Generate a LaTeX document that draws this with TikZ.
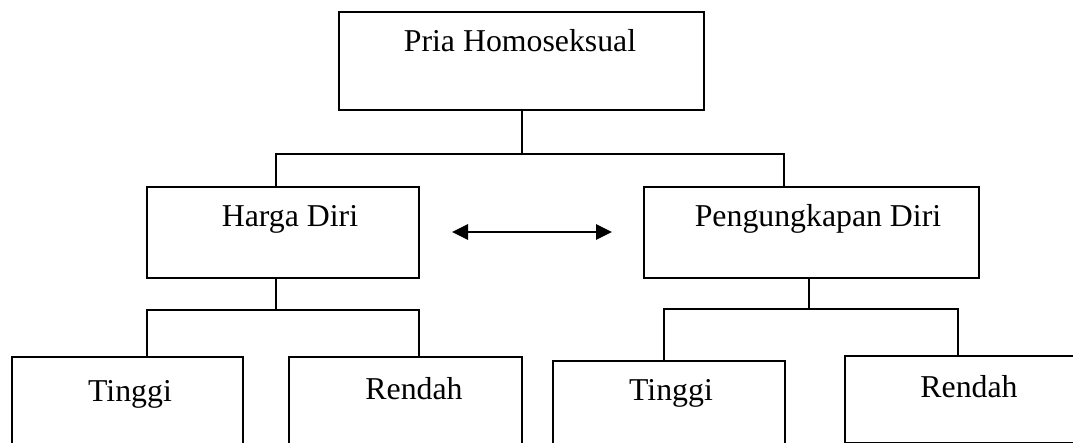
\documentclass[tikz,border=0pt]{standalone}
\usepackage{fontspec}
\setmainfont{Liberation Serif}
\usetikzlibrary{arrows.meta}
\tikzset{
  box/.style={draw=black, line width=2.1pt, rectangle, inner sep=0pt, anchor=north west},
  lbl/.style={anchor=base, inner sep=0pt, font=\fontsize{31.8}{38}\selectfont},
  conn/.style={draw=black, line width=2pt},
}
\begin{document}
\begin{tikzpicture}[x=1pt, y=-1pt]
\clip (0,0) rectangle (1073,443);
\fill[white] (0,0) rectangle (1073,443);
% boxes
\node[box, minimum width=365pt, minimum height=98pt] (top) at (338,11) {};
\node[box, minimum width=272pt, minimum height=91pt] (harga) at (146,186) {};
\node[box, minimum width=335pt, minimum height=91pt] (peng) at (643,186) {};
\node[box, minimum width=231pt, minimum height=120pt] (t1) at (11,356) {};
\node[box, minimum width=233pt, minimum height=120pt] (r1) at (288,356) {};
\node[box, minimum width=232pt, minimum height=120pt] (t2) at (552,360) {};
\node[box, minimum width=233pt, minimum height=87pt] (r2) at (844,355) {};
% labels
\node[lbl] (ltop) at (520,52) {Pria Homoseksual};
\node[lbl] (lharga) at (290,227) {Harga Diri};
\node[lbl] (lpeng) at (818,227) {Pengungkapan Diri};
\node[lbl] (lt1) at (130,401) {Tinggi};
\node[lbl] (lr1) at (414,399) {Rendah};
\node[lbl] (lt2) at (671,400) {Tinggi};
\node[lbl] (lr2) at (969,397) {Rendah};
% connectors
\draw[conn] ([xshift=0.5pt]top.south) -- ++(0,43) coordinate (j1);
\draw[conn] ([xshift=-7pt]harga.north) |- (j1) -| ([xshift=-27.5pt]peng.north);
\draw[conn] ([xshift=-7pt]harga.south) -- ++(0,32) coordinate (j2);
\draw[conn] ([xshift=19.5pt]t1.north) |- ([yshift=1pt]j2) -| ([xshift=13.5pt]r1.north);
\draw[conn] ([xshift=-2.5pt]peng.south) -- ++(0,31) coordinate (j3);
\draw[conn] ([xshift=-5pt]t2.north) |- ([yshift=1pt]j3) -| ([xshift=-3.5pt]r2.north);
% double arrow
\coordinate (aL) at (452,232);
\coordinate (aR) at (612,232);
\draw[conn, line width=2.8pt, {Triangle[length=16pt,width=15pt]}-{Triangle[length=16pt,width=15pt]}] (aL) -- (aR);
\end{tikzpicture}
\end{document}
